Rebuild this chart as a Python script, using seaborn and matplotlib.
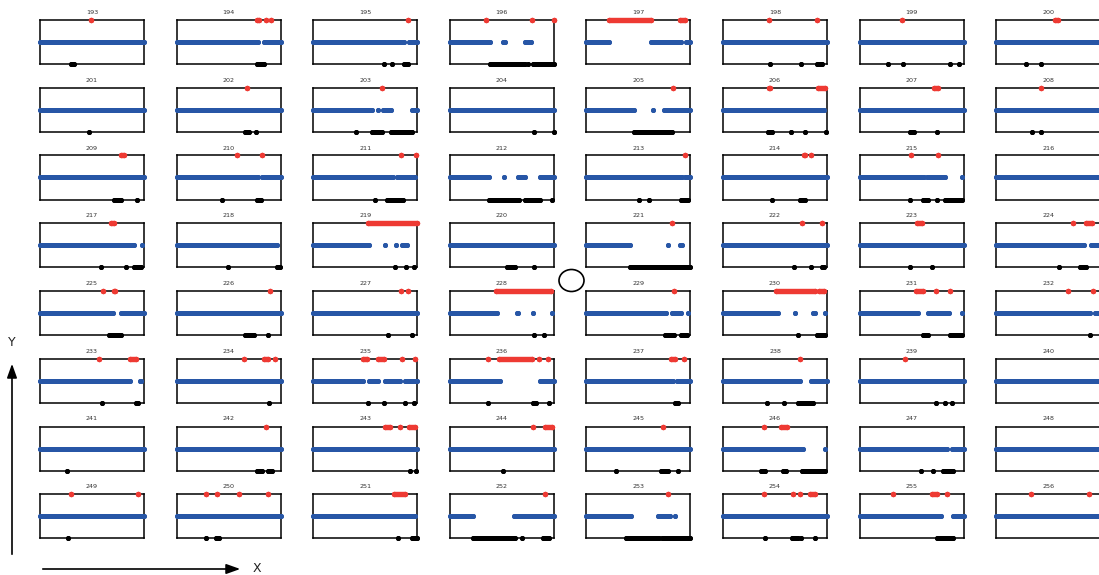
import numpy as np
import pandas as pd
import matplotlib
matplotlib.use("Agg")
import matplotlib.pyplot as plt
from matplotlib.patches import Ellipse, FancyArrowPatch
import seaborn as sns

# Panel identifiers, laid out row by row in an 8 x 8 grid
panel_ids = list(range(193, 257))

# Runs along each track, as (start, end) in percent of the panel length;
# a single event is a run whose start equals its end.
blue_runs = [
    [(0, 100)], [(0, 78), (84, 100)], [(0, 87), (92, 100)], [(0, 39), (51, 53), (72, 78)],
    [(0, 22), (62, 91), (96, 100)], [(0, 100)], [(0, 100)], [(0, 100)],
    [(0, 100)], [(0, 100)], [(0, 57), (62, 62), (67, 75), (95, 100)], [(0, 100)],
    [(0, 46), (64, 64), (75, 100)], [(0, 97)], [(0, 100)], [(0, 100)],
    [(0, 100)], [(0, 78), (82, 100)], [(0, 77), (81, 98)], [(0, 38), (52, 52), (66, 72), (87, 100)],
    [(0, 92), (95, 100)], [(0, 100)], [(0, 62), (65, 82), (98, 98)], [(0, 100)],
    [(0, 90), (98, 98)], [(0, 97)], [(0, 54), (69, 69), (80, 80), (85, 90)], [(0, 100)],
    [(0, 42), (78, 78), (90, 92)], [(0, 100)], [(0, 100)], [(0, 84), (91, 100)],
    [(0, 70), (78, 100)], [(0, 100)], [(0, 100)], [(0, 45), (65, 66), (80, 80), (98, 98)],
    [(0, 77), (82, 82), (84, 91), (98, 98)], [(0, 53), (69, 69), (87, 88), (98, 98)],
    [(0, 56), (66, 86), (98, 98)], [(0, 90), (95, 100)],
    [(0, 87), (96, 97)], [(0, 100)], [(0, 48), (54, 62), (69, 83), (88, 100)], [(0, 48), (87, 100)],
    [(0, 83), (87, 100)], [(0, 74), (85, 100)], [(0, 100)], [(0, 100)],
    [(0, 100)], [(0, 100)], [(0, 100)], [(0, 100)],
    [(0, 100)], [(0, 77), (98, 98)], [(0, 84), (89, 100)], [(0, 100)],
    [(0, 100)], [(0, 100)], [(0, 98)], [(0, 22), (62, 100)],
    [(0, 43), (69, 80), (85, 85)], [(0, 100)], [(0, 78), (90, 100)], [(0, 100)],
]

red_runs = [
    [(49, 49)], [(77, 79), (86, 86), (91, 91)], [(91, 91)], [(35, 35), (79, 79), (100, 100)],
    [(22, 62), (90, 95)], [(44, 44), (90, 90)], [(41, 41)], [(57, 59)],
    [], [(68, 68)], [(66, 66)], [],
    [(83, 83)], [(44, 45), (91, 98)], [(72, 75)], [(43, 43)],
    [(78, 81)], [(58, 58), (82, 82)], [(84, 84), (99, 99)], [],
    [(95, 95)], [(78, 79), (85, 85)], [(49, 49), (75, 75)], [],
    [(68, 71)], [], [(53, 100)], [],
    [(82, 82)], [(76, 76), (95, 95)], [(55, 60)], [(74, 74), (86, 92)],
    [(61, 61), (71, 72)], [(90, 90)], [(84, 84), (91, 91)], [(44, 97)],
    [(84, 84)], [(51, 88), (92, 97)], [(54, 61), (73, 73), (87, 87)], [(69, 69), (93, 93)],
    [(57, 57), (87, 92)], [(65, 65), (84, 88), (95, 95)],
    [(48, 52), (62, 68), (85, 85), (98, 98)], [(37, 37), (47, 79), (86, 86), (94, 94)],
    [(81, 85), (94, 94)], [(74, 74)], [(44, 44)], [],
    [], [(86, 86)], [(69, 74), (83, 83), (92, 98)], [(80, 80), (92, 98)],
    [(74, 74)], [(39, 39), (56, 62)], [], [],
    [(30, 30), (94, 94)], [(28, 28), (39, 39), (60, 60), (88, 88)], [(78, 88)], [(92, 92)],
    [(78, 78)], [(39, 39), (67, 67), (74, 74), (84, 88)], [(32, 32), (70, 74), (84, 84)], [(33, 33), (89, 89)],
]

black_runs = [
    [(30, 33)], [(77, 84)], [(68, 68), (76, 76), (87, 91)], [(39, 51), (53, 72), (75, 75), (80, 100)],
    [], [(45, 45), (75, 75), (90, 95)], [(27, 27), (42, 42), (87, 87), (96, 96)], [(29, 29), (43, 43)],
    [(47, 47)], [(66, 70), (76, 76)], [(41, 41), (57, 66), (75, 95)], [(81, 81), (100, 100)],
    [(46, 82)], [(43, 47), (65, 65), (79, 79), (99, 99)], [(48, 52), (74, 74)], [(34, 34), (43, 43)],
    [(71, 78), (93, 93)], [(44, 44), (77, 81)], [(59, 59), (71, 86)], [(38, 67), (72, 87), (98, 98)],
    [(51, 51), (60, 60), (91, 98)], [(47, 47), (74, 79)], [(48, 48), (61, 66), (74, 74), (82, 98)], [],
    [(59, 59), (83, 83), (90, 97)], [(49, 49), (97, 99)], [(79, 79), (89, 89), (97, 97)], [(55, 63), (81, 81)],
    [(42, 100)], [(68, 68), (85, 85), (95, 97)], [(48, 48), (70, 70)], [(60, 60), (81, 86)],
    [(66, 78)], [(66, 74), (88, 88)], [(72, 72), (95, 95)], [(81, 81), (91, 91)],
    [(76, 84), (91, 97)], [(72, 72), (90, 98)], [(61, 66), (87, 98)], [(90, 90)],
    [(60, 60), (92, 94)], [(89, 89)], [(53, 53), (68, 68), (88, 88), (97, 97)], [(37, 37), (80, 83), (95, 95)],
    [(85, 88)], [(42, 42), (59, 59), (72, 87)], [(73, 73), (82, 82), (89, 89)], [],
    [(26, 26)], [(77, 82), (88, 92)], [(93, 93), (99, 99)], [(51, 51)],
    [(28, 28), (72, 78), (88, 88)], [(37, 40), (58, 61), (76, 98)], [(59, 59), (71, 71), (80, 90)], [],
    [(27, 27)], [(28, 28), (38, 41)], [(82, 82), (95, 100)], [(22, 63), (69, 69), (90, 95)],
    [(38, 70), (73, 100)], [(40, 40), (66, 72), (75, 75), (88, 88)], [(74, 90)], [],
]

sns.set_style("white")
plt.rcParams["font.family"] = ["DejaVu Sans"]

W, H = 1099, 575
fig = plt.figure(figsize=(W / 100, H / 100), dpi=100)

track_y = {"blue": 0.5, "red": 1.0, "black": 0.0}
palette = {"blue": "#2756a6", "red": "#ee3a33", "black": "#000000"}
dot_px = {"blue": 5.0, "red": 5.4, "black": 5.0}

# Long-form table of all runs
records = []
for pid, b, r, k in zip(panel_ids, blue_runs, red_runs, black_runs):
    for track, runs in (("blue", b), ("black", k), ("red", r)):
        for i, (s, e) in enumerate(runs):
            records.append({"panel": pid, "track": track, "run": i, "start": s, "end": e})
runs_df = pd.DataFrame(records)
ends_df = runs_df.melt(id_vars=["panel", "track", "run"], value_vars=["start", "end"],
                       value_name="x")
ends_df["y"] = ends_df["track"].map(track_y)

px_to_pt = 72 / 100
col_step, row_step = 136.6, 67.75
box_w, box_h = 104, 44

for idx, pid in enumerate(panel_ids):
    r, c = divmod(idx, 8)
    left = 40 + c * col_step
    top = 20 + r * row_step
    ax = fig.add_axes([left / W, 1 - (top + box_h) / H, box_w / W, box_h / H])

    sub = runs_df[runs_df["panel"] == pid]
    pts = ends_df[ends_df["panel"] == pid]
    for track in ("blue", "black", "red"):
        t = sub[sub["track"] == track]
        if len(t):
            ax.hlines(np.full(len(t), track_y[track]), t["start"], t["end"],
                      color=palette[track], lw=dot_px[track] * px_to_pt,
                      capstyle="round", clip_on=False, zorder=3)
        p = pts[pts["track"] == track]
        if len(p):
            sns.scatterplot(data=p, x="x", y="y", color=palette[track],
                            s=(dot_px[track] * px_to_pt) ** 2, linewidth=0,
                            legend=False, ax=ax, clip_on=False, zorder=3)

    ax.set_xlim(0, 100)
    ax.set_ylim(0, 1)
    ax.set_xticks([])
    ax.set_yticks([])
    ax.set_xlabel("")
    ax.set_ylabel("")
    for sp in ax.spines.values():
        sp.set_visible(True)
        sp.set_color("black")
        sp.set_linewidth(1.1)

    fig.text((left + box_w / 2) / W, 1 - (top - 7.5) / H, str(pid),
             ha="center", va="center", fontsize=4.6, color="#333333")

# Reference marker between the panels
fig.add_artist(Ellipse((571.5 / W, 1 - 280.5 / H), 25 / W, 22 / H,
                       transform=fig.transFigure, fill=False, ec="black", lw=1.2))

# Axis direction arrows
fig.add_artist(FancyArrowPatch((12 / W, 1 - 557 / H), (12 / W, 1 - 361 / H),
                               transform=fig.transFigure,
                               arrowstyle="-|>,head_length=0.7,head_width=0.25",
                               mutation_scale=12, lw=1.2, color="black"))
fig.add_artist(FancyArrowPatch((40 / W, 1 - 569 / H), (243 / W, 1 - 569 / H),
                               transform=fig.transFigure,
                               arrowstyle="-|>,head_length=0.7,head_width=0.25",
                               mutation_scale=12, lw=1.2, color="black"))
fig.text(12 / W, 1 - 343 / H, "Y", ha="center", va="center", fontsize=9, color="#222222")
fig.text(257 / W, 1 - 569 / H, "X", ha="center", va="center", fontsize=9, color="#222222")

fig.savefig("out.png", dpi=100)
